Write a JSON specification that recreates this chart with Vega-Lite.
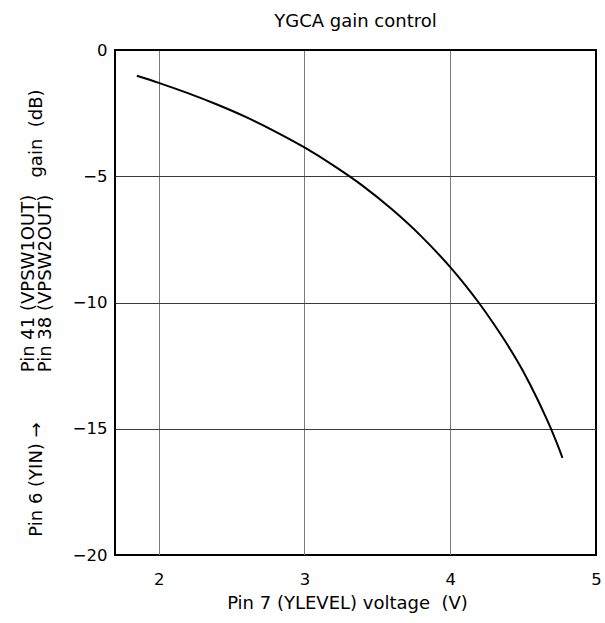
{
  "$schema": "https://vega.github.io/schema/vega-lite/v6.json",
  "width": 481,
  "height": 505,
  "autosize": "none",
  "padding": {"left": 115, "top": 50, "right": 9, "bottom": 68},
  "background": "white",
  "title": {
    "text": "YGCA gain control",
    "font": "DejaVu Sans",
    "fontSize": 18,
    "fontWeight": "normal",
    "color": "black",
    "anchor": "middle",
    "offset": 11
  },
  "config": {
    "view": {"stroke": "black", "strokeWidth": 2},
    "axis": {
      "labelFont": "DejaVu Sans",
      "labelFontSize": 16.5,
      "labelColor": "black",
      "titleFont": "DejaVu Sans",
      "titleFontSize": 18,
      "titleFontWeight": "normal",
      "titleColor": "black",
      "ticks": false,
      "tickSize": 0,
      "domain": false,
      "labelFlush": false,
      "labelOverlap": false
    }
  },
  "data": {
    "values": [
      {"v": 1.85, "g": -1.02},
      {"v": 2.0, "g": -1.3},
      {"v": 2.2, "g": -1.71},
      {"v": 2.4, "g": -2.16},
      {"v": 2.6, "g": -2.66},
      {"v": 2.8, "g": -3.23},
      {"v": 3.0, "g": -3.86},
      {"v": 3.2, "g": -4.58},
      {"v": 3.4, "g": -5.38},
      {"v": 3.6, "g": -6.31},
      {"v": 3.8, "g": -7.37},
      {"v": 4.0, "g": -8.6},
      {"v": 4.1, "g": -9.29},
      {"v": 4.2, "g": -10.04},
      {"v": 4.3, "g": -10.86},
      {"v": 4.4, "g": -11.74},
      {"v": 4.5, "g": -12.72},
      {"v": 4.6, "g": -13.85},
      {"v": 4.65, "g": -14.47},
      {"v": 4.7, "g": -15.12},
      {"v": 4.735, "g": -15.62},
      {"v": 4.77, "g": -16.15}
    ]
  },
  "layer": [
    {
      "mark": {"type": "line", "color": "black", "strokeWidth": 2, "interpolate": "monotone"},
      "encoding": {
        "x": {
          "field": "v",
          "type": "quantitative",
          "scale": {"domain": [1.7, 5], "nice": false, "zero": false},
          "axis": {
            "values": [2, 3, 4, 5],
            "grid": true,
            "gridWidth": 1,
            "gridColor": {"condition": {"test": "datum.value == 5", "value": "black"}, "value": "#7a7a7a"},
            "labelPadding": 16,
            "title": "Pin 7 (YLEVEL) voltage\u00a0 (V)",
            "titleX": 232,
            "titleY": 53,
            "titleAlign": "center",
            "titleBaseline": "alphabetic"
          }
        },
        "y": {
          "field": "g",
          "type": "quantitative",
          "scale": {"domain": [-20, 0], "nice": false, "zero": false},
          "axis": {
            "values": [0, -5, -10, -15, -20],
            "grid": true,
            "gridWidth": 1,
            "gridColor": {"condition": {"test": "datum.value == 0 || datum.value == -20", "value": "black"}, "value": "#3a3a3a"},
            "labelPadding": 8,
            "title": ["Pin 41 (VPSW1OUT)", "Pin 38 (VPSW2OUT)"],
            "titleAngle": 270,
            "titleX": -82,
            "titleY": 233,
            "titleAlign": "center",
            "titleBaseline": "alphabetic",
            "titleLineHeight": 17
          }
        }
      }
    },
    {
      "mark": {"type": "point", "opacity": 0},
      "encoding": {
        "y": {
          "field": "g",
          "type": "quantitative",
          "axis": {
            "orient": "left",
            "labels": false,
            "grid": false,
            "title": "Pin 6 (YIN) \u2192",
            "titleAngle": 270,
            "titleX": -74,
            "titleY": 429,
            "titleAlign": "center",
            "titleBaseline": "alphabetic"
          }
        }
      }
    },
    {
      "mark": {"type": "point", "opacity": 0},
      "encoding": {
        "y": {
          "field": "g",
          "type": "quantitative",
          "axis": {
            "orient": "left",
            "labels": false,
            "grid": false,
            "title": "gain\u00a0 (dB)",
            "titleAngle": 270,
            "titleX": -74,
            "titleY": 83,
            "titleAlign": "center",
            "titleBaseline": "alphabetic"
          }
        }
      }
    }
  ],
  "resolve": {"axis": {"y": "independent"}}
}
